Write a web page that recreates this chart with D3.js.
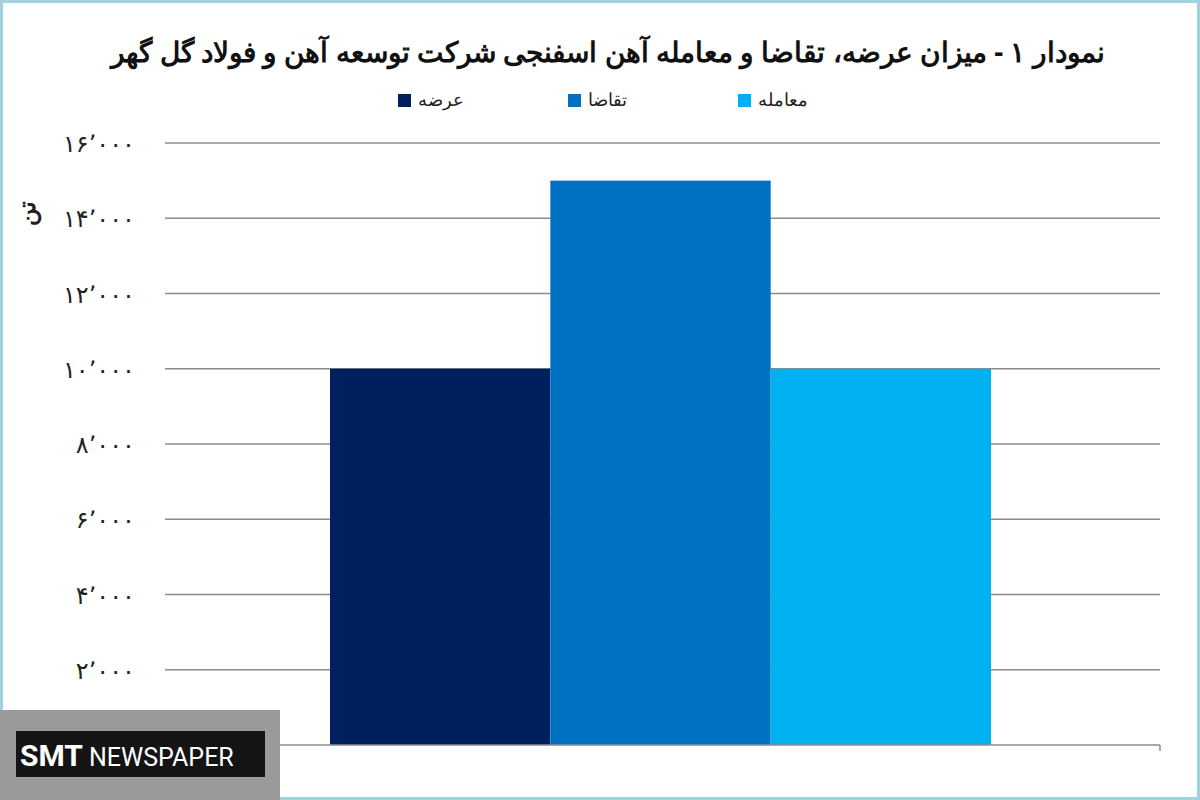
<!DOCTYPE html>
<html><head><meta charset="utf-8">
<script src="https://cdn.jsdelivr.net/npm/d3@7"></script>
<style>body{margin:0;background:#fff}svg{display:block}</style>
</head><body>
<svg id="c" width="1200" height="800"></svg>
<script>
// chart data
var categories = ['عرضه', 'تقاضا', 'معامله'];
var values = [10000, 15000, 10000];
var colors = ['#001f5f', '#0070c0', '#00b0f0'];
var ticks = [2000, 4000, 6000, 8000, 10000, 12000, 14000, 16000];

var fa = function(n) {
  var s = d3.format(',')(n).replace(/,/g, '٬');
  return s.replace(/\d/g, function(d){ return '۰۱۲۳۴۵۶۷۸۹'[d]; });
};

var svg = d3.select('#c');
svg.append('rect').attr('x', 1.5).attr('y', 1.5).attr('width', 1197).attr('height', 797)
  .attr('fill', 'none').attr('stroke', '#9fd3e0').attr('stroke-width', 3);

var x = d3.scaleBand().domain(categories).range([330, 991]).padding(0);
var y = d3.scaleLinear().domain([0, 16000]).range([745, 143]);

svg.selectAll('.grid').data(ticks).enter().append('line')
  .attr('x1', 165).attr('x2', 1160)
  .attr('y1', function(d){ return y(d); }).attr('y2', function(d){ return y(d); })
  .attr('stroke', '#8c8c8c').attr('stroke-width', 1.5);

svg.selectAll('.bar').data(values).enter().append('rect')
  .attr('x', function(d, i){ return x(categories[i]); })
  .attr('width', x.bandwidth())
  .attr('y', function(d){ return y(d); })
  .attr('height', function(d){ return y(0) - y(d); })
  .attr('fill', function(d, i){ return colors[i]; });

svg.append('line').attr('x1', 165).attr('x2', 1160).attr('y1', y(0)).attr('y2', y(0))
  .attr('stroke', '#8c8c8c').attr('stroke-width', 1.5);
svg.append('line').attr('x1', 1160).attr('x2', 1160).attr('y1', y(0)).attr('y2', y(0) + 6)
  .attr('stroke', '#8c8c8c').attr('stroke-width', 1.5);

svg.selectAll('.tick').data(ticks).enter().append('text')
  .attr('x', 135).attr('y', function(d){ return y(d) + 9; })
  .attr('text-anchor', 'end').attr('font-family', 'DejaVu Sans').attr('font-size', 24)
  .attr('fill', '#222').text(fa);

svg.append('text').attr('transform', 'translate(35,213) rotate(-90)')
  .attr('text-anchor', 'middle').attr('font-family', 'Noto Sans').attr('font-size', 24)
  .attr('font-weight', 'bold').attr('fill', '#222').text('تن');

svg.append('text').attr('x', 608).attr('y', 62).attr('text-anchor', 'middle')
  .attr('font-family', 'Noto Sans').attr('font-weight', 'bold').attr('font-size', 28)
  .attr('fill', '#111').attr('direction', 'rtl')
  .text('نمودار ۱ - میزان عرضه، تقاضا و معامله آهن اسفنجی شرکت توسعه آهن و فولاد گل گهر');

var legX = [398, 568, 738];
var leg = svg.selectAll('.leg').data(categories).enter().append('g')
  .attr('transform', function(d, i){ return 'translate(' + legX[i] + ',94)'; });
leg.append('rect').attr('width', 13).attr('height', 13)
  .attr('fill', function(d, i){ return colors[i]; });
leg.append('text').attr('x', 20).attr('y', 12).attr('font-family', 'Noto Sans')
  .attr('font-size', 18).attr('fill', '#222').text(function(d){ return d; });

// watermark
svg.append('rect').attr('x', 0).attr('y', 710).attr('width', 280).attr('height', 90).attr('fill', '#9a9a9a');
svg.append('rect').attr('x', 16).attr('y', 731).attr('width', 249).attr('height', 46).attr('fill', '#141414');
svg.append('text').attr('x', 20).attr('y', 766).attr('font-family', 'Roboto').attr('font-size', 30)
  .attr('fill', '#fff').attr('font-weight', 'bold').text('SMT')
  .append('tspan').attr('font-weight', 'normal').attr('font-size', 25).attr('dx', 6).text('NEWSPAPER');
</script>
</body></html>
